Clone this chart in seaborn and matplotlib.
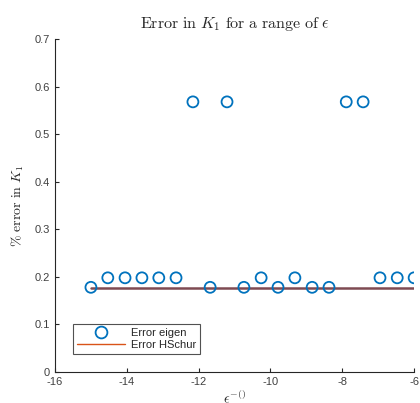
import numpy as np
import pandas as pd
import seaborn as sns
import matplotlib.pyplot as plt
from matplotlib.lines import Line2D

# exponent values (x axis)
eps_exp = [-15.0, -14.53, -14.05, -13.58, -13.11, -12.63, -12.16, -11.68, -11.21, -10.74,
           -10.26, -9.79, -9.32, -8.84, -8.37, -7.89, -7.42, -6.95, -6.47, -6.0]
# % error from eig
err_eigen = [0.178, 0.198, 0.198, 0.198, 0.198, 0.198, 0.568, 0.178, 0.568, 0.178,
             0.198, 0.178, 0.198, 0.178, 0.178, 0.568, 0.568, 0.198, 0.198, 0.198]
# % error from HSchur (flat)
err_hschur = [0.176] * len(eps_exp)

df = pd.DataFrame({'eps': eps_exp, 'eigen': err_eigen, 'hschur': err_hschur})

sns.set_style('ticks')
plt.rcParams['font.family'] = ['Liberation Sans', 'DejaVu Sans']
plt.rcParams['mathtext.fontset'] = 'cm'
plt.rcParams['axes.unicode_minus'] = False

fig = plt.figure(figsize=(4.2, 4.03), dpi=100)
ax = fig.add_axes([0.131, 0.077, 0.855, 0.826])

sns.lineplot(data=df, x='eps', y='hschur', color='#7e4a52', linewidth=1.8, ax=ax)
sns.scatterplot(data=df, x='eps', y='eigen', marker='o', s=62, facecolors='none',
                edgecolor='#0072BD', linewidth=1.3, ax=ax, zorder=3)

ax.set_xlim(-16, -6)
ax.set_ylim(0, 0.7)
ax.set_xticks([-16, -14, -12, -10, -8, -6])
ax.set_yticks([0, 0.1, 0.2, 0.3, 0.4, 0.5, 0.6, 0.7])
ax.set_yticklabels(['0', '0.1', '0.2', '0.3', '0.4', '0.5', '0.6', '0.7'])
ax.tick_params(direction='in', length=3, width=0.8, labelsize=8, colors='#262626',
               labelcolor='#404040')
for s in ['left', 'bottom']:
    ax.spines[s].set_color('#262626')
    ax.spines[s].set_linewidth(0.8)
sns.despine(ax=ax)

ax.set_title(r'$\mathrm{Error\ in\ }K_1\mathrm{\ for\ a\ range\ of\ }\epsilon$', fontsize=11.5, pad=8)
ax.set_xlabel(r'$\epsilon^{-()}$', fontsize=10, labelpad=2)
ax.set_ylabel(r'$\%\ \mathrm{error\ in\ }K_1$', fontsize=10, labelpad=6)

handles = [Line2D([], [], marker='o', linestyle='none', markersize=8.5, markerfacecolor='none',
                  markeredgecolor='#0072BD', markeredgewidth=1.3),
           Line2D([], [], color='#D95319', linewidth=1)]
leg = ax.legend(handles, ['Error eigen', 'Error HSchur'], loc='lower left',
                bbox_to_anchor=(0.05, 0.054), fontsize=8, frameon=True, fancybox=False,
                edgecolor='#262626', borderpad=0.35, handlelength=4.3, labelspacing=0.2,
                handletextpad=0.6, borderaxespad=0)
leg.get_frame().set_linewidth(0.8)

fig.savefig('out.png', dpi=100)
